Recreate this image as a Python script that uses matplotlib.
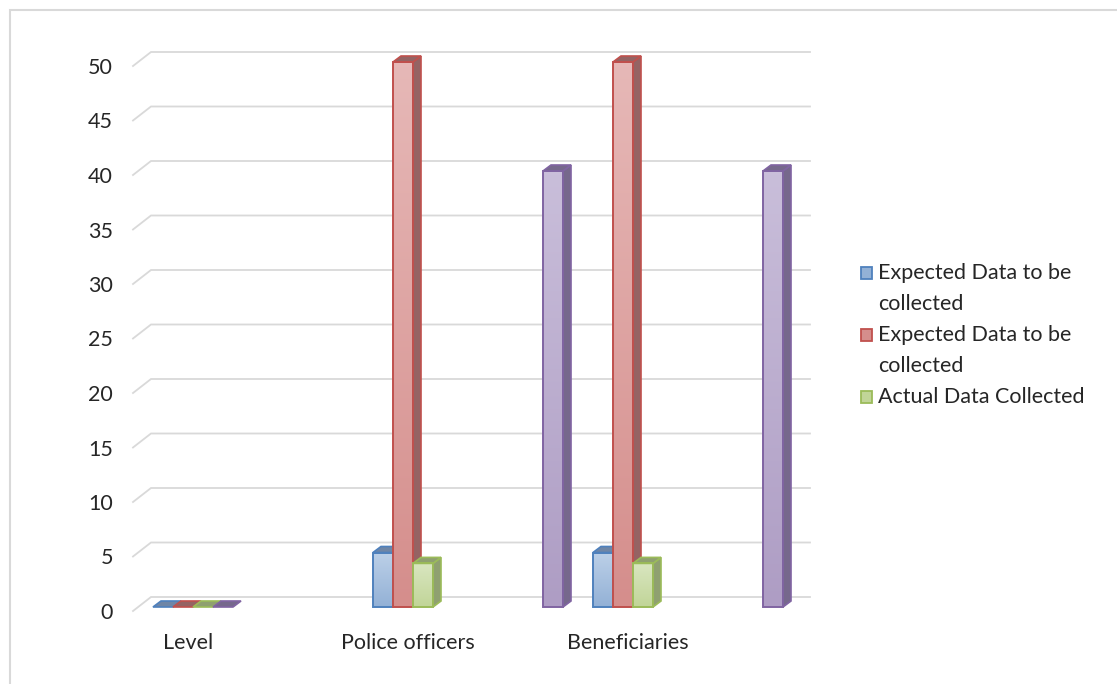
import textwrap
import numpy as np
import matplotlib
matplotlib.use("Agg")
import matplotlib.pyplot as plt
from matplotlib.patches import Rectangle, Polygon
from matplotlib.colors import LinearSegmentedColormap

# data
categories = ["Level", "Police officers", "Beneficiaries"]
expected_a = [0, 5, 5]
expected_b = [0, 50, 50]
actual = [0, 4, 4]
extra = [0, 40, 40]
legend_labels = ["Expected Data to be collected",
                 "Expected Data to be collected",
                 "Actual Data Collected"]
yticks = list(range(0, 55, 5))

# styles: (top colour, bottom colour, edge, side)
styles = [
    ("#BCD0E8", "#93B1D6", "#4F81BD", "#6F86A6"),
    ("#E6B8B7", "#D58E8C", "#C0504D", "#956363"),
    ("#D9E6C0", "#C1D598", "#9BBB59", "#8FA070"),
    ("#C9BEDA", "#AE9DC4", "#8064A2", "#76688C"),
]
series = [expected_a, expected_b, actual, extra]
# the fourth series sits half a category further right after the first group
extra_shift = [0, 0.5, 0.5]

W, H = 1117, 684
FS = 15.5
plt.rcParams['font.family'] = ['Lato', 'DejaVu Sans']
fig = plt.figure(figsize=(W / 100, H / 100), dpi=100)

# outer chart border
fig.add_artist(Rectangle((10 / W, -0.1), 1.2, 1.1 - 10 / H, transform=fig.transFigure,
                         fill=False, edgecolor="#D9D9D9", lw=1.5))

ax = fig.add_axes([133 / W, (H - 611) / H, 660 / W, 545 / H])
ux = 1 / 220.0      # data units per pixel along x
uy = 50 / 545.0     # data units per pixel along y
xmin, xmax = -60 * ux, 600 * ux

# back wall gridlines with a slanted floor edge
for v in yticks:
    ax.plot([xmin, xmin + 18 * ux, xmax + 17 * ux], [v, v + 14 * uy, v + 14 * uy],
            color="#D9D9D9", lw=1.3, clip_on=False, zorder=0, solid_joinstyle="miter")

bw = 20 * ux
dx, dy = 8 * ux, 6 * uy
oy = 4 * uy
offsets = [-30 * ux, -10 * ux, 10 * ux, 30 * ux]

grad = np.linspace(1, 0, 100).reshape(-1, 1)
for s, vals in enumerate(series):
    top_c, bot_c, edge, side = styles[s]
    cmap = LinearSegmentedColormap.from_list("g%d" % s, [bot_c, top_c])
    z = 3 + s
    for i, v in enumerate(vals):
        xc = i + offsets[s] + (extra_shift[i] if s == 3 else 0)
        x0, x1 = xc - bw / 2, xc + bw / 2
        y0, y1 = oy, v + oy
        if v > 0:
            ax.imshow(grad, extent=[x0, x1, y0, y1], aspect="auto", cmap=cmap,
                      vmin=0, vmax=1, zorder=z, interpolation="bilinear", clip_on=False)
            ax.add_patch(Polygon([(x1, y0), (x1 + dx, y0 + dy), (x1 + dx, y1 + dy), (x1, y1)],
                                 closed=True, facecolor=side, edgecolor=edge, lw=1.2,
                                 zorder=z, clip_on=False))
            ax.add_patch(Rectangle((x0, y0), bw, v, fill=False, edgecolor=edge, lw=1.4,
                                   zorder=z + 0.2, clip_on=False))
        ax.add_patch(Polygon([(x0, y1), (x0 + dx, y1 + dy), (x1 + dx, y1 + dy), (x1, y1)],
                             closed=True, facecolor=side, edgecolor=edge, lw=1.2,
                             zorder=z + 0.1, clip_on=False))

ax.set_xlim(xmin, xmax)
ax.set_ylim(0, 50)
for sp in ax.spines.values():
    sp.set_visible(False)
ax.set_yticks(yticks)
ax.set_xticks([i - 5 * ux for i in range(len(categories))])
ax.set_xticklabels(categories)
ax.tick_params(axis="y", length=0, pad=14.5, labelsize=FS, labelcolor="#262626")
ax.tick_params(axis="x", length=0, pad=16, labelsize=FS, labelcolor="#262626")

# legend (only the first three series are listed)
ly = 273
for s, lab in enumerate(legend_labels):
    top_c, bot_c, edge, side = styles[s]
    fig.add_artist(Rectangle((861 / W, 1 - (ly + 6) / H), 11 / W, 12 / H, transform=fig.transFigure,
                             facecolor=bot_c, edgecolor=edge, lw=1.3))
    for line in textwrap.wrap(lab, 21):
        fig.text(878 / W, 1 - ly / H, line, va="center", ha="left", fontsize=FS, color="#262626")
        ly += 31

fig.savefig("out.png", dpi=100)
